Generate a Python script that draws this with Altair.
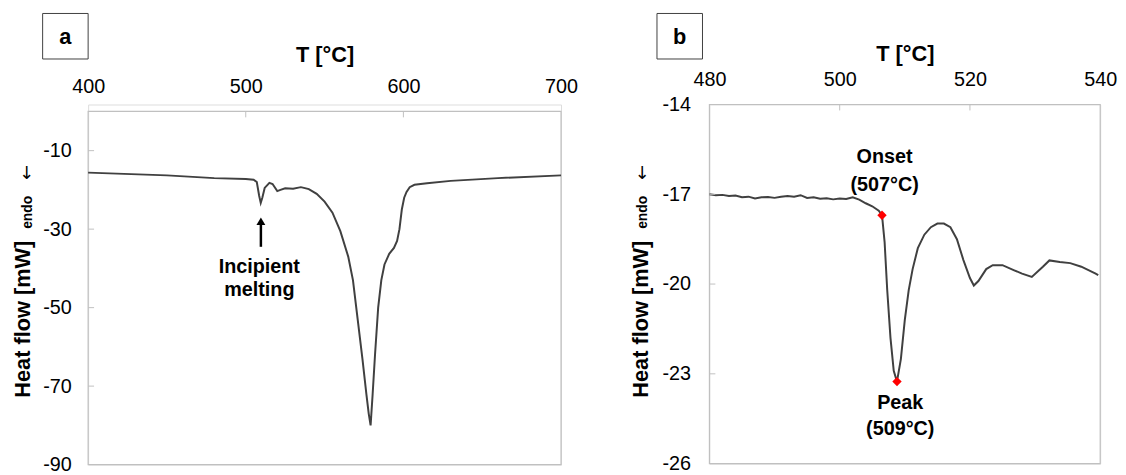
import altair as alt
import pandas as pd

FONT = "Liberation Sans"

# ---------------- Panel a data ----------------
a_temp = [400, 450, 480, 500, 505, 507, 508.5, 509.5, 510.5, 512, 515, 517, 520, 522, 525,
          530, 535, 540, 545, 550, 555, 560, 565, 568, 571, 574, 576.5, 578, 579.2, 580.5,
          582, 584, 586, 588, 591, 594, 596, 597.5, 599, 600.5, 602, 604, 607, 615, 630,
          660, 700]
a_heat = [-15.6, -16.3, -17.0, -17.2, -17.4, -18.0, -21.5, -23.3, -22.0, -19.5, -18.2, -18.5,
          -20.3, -20.0, -19.6, -19.7, -19.3, -19.8, -21.0, -23.0, -25.8, -30.5, -37.0, -43.0,
          -53.0, -63.0, -72.0, -77.0, -80.0, -72.0, -62.0, -50.0, -43.0, -39.0, -36.3, -34.8,
          -33.0, -30.0, -25.0, -22.0, -20.5, -19.3, -18.7, -18.3, -17.7, -17.0, -16.3]
a_xticks = [400, 500, 600, 700]
a_yticks = [-90, -70, -50, -30, -10]
a_frame = {"x": [400], "x2": [700], "y": [-90], "y2": [0]}
a_inner_xticks = [500, 600]
a_inner_yticks = [-10, -30, -50, -70]
a_note_lines = ["Incipient", "melting"]
a_note_temp = [508.6, 508.6]
a_note_heat = [-39.6, -45.6]
a_arrow_temp = [509.6]
a_arrow_from = [-34.5]
a_arrow_to = [-28.5]
a_arrow_head = [-28.0]

# ---------------- Panel b data ----------------
b_temp = [480, 481, 482, 483, 484, 485, 486, 487, 488, 489, 490, 491, 492, 493, 494, 495,
          496, 497, 498, 499, 500, 501, 502, 503, 504, 505, 506, 506.5, 506.9, 507.3, 507.8,
          508.3, 508.8, 509.4, 510.0, 510.6, 511.2, 512.0, 513.0, 514.0, 515.0, 516.0,
          517.0, 518.0, 519.0, 520.0, 520.6, 521.3, 522.5, 523.5, 525.0, 526.8, 528.0,
          529.5, 531.2, 532.2, 533.8, 535.4, 537.1, 539.3, 539.7]
b_heat = [-17.00, -17.03, -17.02, -17.06, -17.04, -17.10, -17.08, -17.14, -17.10, -17.09,
          -17.12, -17.08, -17.06, -17.08, -17.03, -17.12, -17.10, -17.15, -17.13, -17.17,
          -17.14, -17.16, -17.10, -17.18, -17.30, -17.40, -17.55, -17.70, -18.60, -20.20,
          -21.80, -22.90, -23.26, -22.50, -21.20, -20.20, -19.50, -18.80, -18.35, -18.10,
          -17.98, -17.98, -18.10, -18.50, -19.20, -19.80, -20.05, -19.90, -19.50, -19.37,
          -19.37, -19.54, -19.65, -19.76, -19.42, -19.21, -19.26, -19.30, -19.42, -19.65,
          -19.70]
b_xticks = [480, 500, 520, 540]
b_yticks = [-26, -23, -20, -17, -14]
b_frame = {"x": [480], "x2": [540], "y": [-26], "y2": [-14]}
b_inner_xticks = [500, 520]
b_inner_yticks = [-17, -20, -23]
b_mark_temp = [506.5, 508.8]
b_mark_heat = [-17.7, -23.26]
b_note_lines = ["Onset", "(507°C)", "Peak", "(509°C)"]
b_note_temp = [506.9, 506.9, 509.3, 509.3]
b_note_heat = [-15.75, -16.68, -23.98, -24.84]

LINE_COLOR = "#404040"
FRAME_COLOR = "#c0c0c0"


def axis_x(values, title, label_pad, title_pad):
    return alt.Axis(orient="top", values=values, title=title, labelFontSize=20,
                    labelFont=FONT, labelColor="black", labelPadding=label_pad,
                    labelFlush=False, labelOverlap=False,
                    titleFont=FONT, titleFontSize=22, titleFontWeight="bold",
                    titleColor="black", titlePadding=title_pad,
                    domain=False, ticks=False, grid=False, format="d")


def axis_y(values, pad):
    return alt.Axis(values=values, title=None, labelFontSize=20, labelFont=FONT,
                    labelColor="black", labelPadding=pad, labelFlush=False,
                    labelOverlap=False, labelExpr="datum.value + ''",
                    domain=False, ticks=False, grid=False)


def panel(temp, heat, frame, xdom, ydom, xticks, yticks, inner_x, inner_y, top_off,
          label_pad, title_pad, ypad, letter, box_x, box_y, ytitle_pos):
    X = alt.X("T:Q", scale=alt.Scale(domain=xdom, nice=False, zero=False),
              axis=axis_x(xticks, "T [°C]", label_pad, title_pad))
    Y = alt.Y("H:Q", scale=alt.Scale(domain=ydom, nice=False, zero=False),
              axis=axis_y(yticks, ypad))
    fr = alt.Chart(pd.DataFrame({"T": frame["x"], "T2": frame["x2"],
                                 "H": frame["y"], "H2": frame["y2"]})).mark_rect(
        fillOpacity=0, stroke=FRAME_COLOR, strokeWidth=1.2).encode(
        x=X, x2="T2:Q", y=Y, y2="H2:Q")
    df = pd.DataFrame({"T": temp, "H": heat})
    line = alt.Chart(df).mark_line(color=LINE_COLOR, strokeWidth=2).encode(x=X, y=Y)
    tx = alt.Chart(pd.DataFrame({"T": inner_x})).mark_rule(
        color=FRAME_COLOR, strokeWidth=1).encode(
        x=X, y=alt.value(top_off), y2=alt.value(top_off + 6))
    ty = alt.Chart(pd.DataFrame({"H": inner_y})).mark_rule(
        color=FRAME_COLOR, strokeWidth=1).encode(y=Y, x=alt.value(0), x2=alt.value(6))
    one = pd.DataFrame({"k": [0]})
    box = alt.Chart(one).mark_rect(fill="white", stroke="#404040", strokeWidth=1).encode(
        x=alt.value(box_x), x2=alt.value(box_x + 46),
        y=alt.value(box_y), y2=alt.value(box_y + 46))
    box_t = alt.Chart(one).mark_text(font=FONT, fontSize=22, fontWeight="bold",
                                     color="black", align="center",
                                     baseline="middle").encode(
        x=alt.value(box_x + 23), y=alt.value(box_y + 24), text=alt.value(letter))
    (mx, my), (ex, ey), (ax_, ay) = ytitle_pos
    yt_main = alt.Chart(one).mark_text(font=FONT, fontSize=22, fontWeight="bold",
                                       color="black", angle=270, align="center",
                                       baseline="middle").encode(
        x=alt.value(mx), y=alt.value(my), text=alt.value("Heat flow  [mW]"))
    yt_endo = alt.Chart(one).mark_text(font=FONT, fontSize=14, fontWeight="bold",
                                       color="black", angle=270, align="center",
                                       baseline="middle").encode(
        x=alt.value(ex), y=alt.value(ey), text=alt.value("endo"))
    yt_arrow = alt.Chart(one).mark_text(font="DejaVu Sans", fontSize=18,
                                        color="black", align="center",
                                        baseline="middle").encode(
        x=alt.value(ax_), y=alt.value(ay), text=alt.value("↓"))
    layers = [fr, line, tx, ty, box, box_t, yt_main, yt_endo, yt_arrow]
    return layers, X, Y


# Panel a (its plot area starts 7 px above its frame, so that the two panels
# sit at the heights of the reference)
layers_a, Xa, Ya = panel(a_temp, a_heat, a_frame, [400, 700], [-90, 1.76], a_xticks,
                         a_yticks, a_inner_xticks, a_inner_yticks, 7, 8, 10, 17, "a",
                         -46, -92, ((-66, 217), (-61, 109), (-62, 70)))
note_a = alt.Chart(pd.DataFrame({"T": a_note_temp, "H": a_note_heat, "L": a_note_lines})
                   ).mark_text(font=FONT, fontSize=20, fontWeight="bold", color="black",
                               align="center", baseline="middle").encode(
    x=Xa, y=Ya, text="L:N")
arrow_a = alt.Chart(pd.DataFrame({"T": a_arrow_temp, "H": a_arrow_from, "H2": a_arrow_to})
                    ).mark_rule(color="black", strokeWidth=2.5).encode(
    x=Xa, y=Ya, y2="H2:Q")
head_a = alt.Chart(pd.DataFrame({"T": a_arrow_temp, "H": a_arrow_head})).mark_point(
    shape="triangle-up", filled=True, color="black", size=80, opacity=1).encode(x=Xa, y=Ya)
chart_a = alt.layer(*layers_a, note_a, arrow_a, head_a).properties(width=478, height=364)

# Panel b
layers_b, Xb, Yb = panel(b_temp, b_heat, b_frame, [480, 540], [-26, -14], b_xticks,
                         b_yticks, b_inner_xticks, b_inner_yticks, 0, 15, 4, 19, "b",
                         -53, -92, ((-69, 217), (-67, 109), (-68, 70)))
marks_b = alt.Chart(pd.DataFrame({"T": b_mark_temp, "H": b_mark_heat})).mark_point(
    shape="diamond", filled=True, color="#ff0000", size=90, opacity=1).encode(x=Xb, y=Yb)
note_b = alt.Chart(pd.DataFrame({"T": b_note_temp, "H": b_note_heat, "L": b_note_lines})
                   ).mark_text(font=FONT, fontSize=20, fontWeight="bold", color="black",
                               align="center", baseline="middle").encode(
    x=Xb, y=Yb, text="L:N")
chart_b = alt.layer(*layers_b, marks_b, note_b).properties(width=395, height=363)

chart = alt.hconcat(chart_a, chart_b, spacing=51).properties(
    padding={"left": 3, "top": 2, "right": 0, "bottom": 0}
).configure_view(stroke="transparent").configure(background="white")

chart.save("out.html", embed_options={"renderer": "svg", "actions": False})
